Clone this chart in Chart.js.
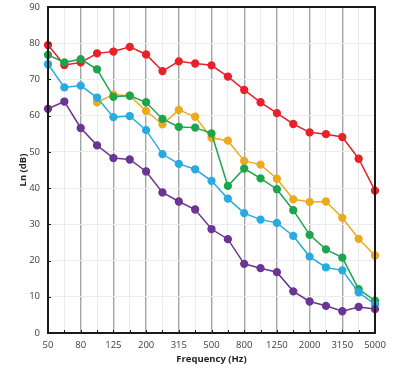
<!DOCTYPE html>
<html><head><meta charset="utf-8">
<script src="https://cdn.jsdelivr.net/npm/chart.js@4/dist/chart.umd.min.js"></script>
<style>html,body{margin:0;padding:0;background:#fff}#wrap{width:396px;height:369px}</style>
</head><body><div id="wrap"><canvas id="c" width="396" height="369"></canvas></div>
<script>
const categories = ['50','63','80','100','125','160','200','250','315','400','500','630','800','1000','1250','1600','2000','2500','3150','4000','5000'];
const redSeries    = [79.5,74.0,74.7,77.2,77.7,79.0,76.9,72.3,75.0,74.4,73.9,70.8,67.1,63.7,60.7,57.7,55.4,54.9,54.1,48.1,39.3];
const greenSeries  = [76.8,74.7,75.6,72.8,65.2,65.5,63.7,59.1,56.9,56.7,55.1,40.6,45.4,42.7,39.7,33.9,27.1,23.1,20.8,12.1,8.9];
const orangeSeries = [null,null,null,63.7,65.8,65.5,61.3,57.6,61.6,59.7,53.9,53.1,47.5,46.5,42.6,36.9,36.2,36.3,31.8,26.0,21.4];
const blueSeries   = [74.2,67.8,68.3,65.0,59.6,59.9,56.0,49.4,46.7,45.2,42.0,37.1,33.1,31.3,30.4,26.8,21.1,18.1,17.3,11.2,7.9];
const purpleSeries = [61.9,63.9,56.6,51.8,48.3,47.9,44.6,38.8,36.3,34.1,28.7,25.9,19.1,17.9,16.8,11.5,8.7,7.5,6.0,7.2,6.6];
const yTicks = [0,10,20,30,40,50,60,70,80,90];

function ds(data, color){
  return {data, borderColor:color, backgroundColor:color, pointBackgroundColor:color, pointBorderColor:color,
    borderWidth:1.5, pointRadius:3.4, pointHoverRadius:3.4, tension:0, spanGaps:false};
}
const frame = {
  id:'frame',
  afterDatasetsDraw(chart){
    const {ctx, chartArea:a, scales} = chart;
    ctx.save();
    ctx.strokeStyle = '#1a1a1a';
    ctx.lineWidth = 1;
    const xs = scales.x;
    for (let i=0;i<categories.length;i++){
      const px = Math.round(xs.getPixelForTick(i))+0.5;
      ctx.beginPath(); ctx.moveTo(px, a.bottom); ctx.lineTo(px, a.bottom-3); ctx.stroke();
    }
    const ys = scales.y;
    for (const v of yTicks){
      const py = Math.round(ys.getPixelForValue(v))+0.5;
      ctx.beginPath(); ctx.moveTo(a.left, py); ctx.lineTo(a.left+3, py); ctx.stroke();
    }
    ctx.lineWidth = 2;
    ctx.strokeRect(a.left, a.top, a.right-a.left, a.bottom-a.top);
    ctx.restore();
  }
};
const FONT = '"Open Sans", "Liberation Sans", sans-serif';
new Chart(document.getElementById('c'), {
  type:'line',
  data:{labels:categories, datasets:[ds(purpleSeries,'#6a3594'), ds(blueSeries,'#29aae1'), ds(greenSeries,'#1ca64b'), ds(orangeSeries,'#ebab1c'), ds(redSeries,'#e8222a')]},
  options:{
    responsive:false, animation:false, devicePixelRatio:1,
    layout:{padding:{top:7,right:21,left:18,bottom:0}},
    plugins:{legend:{display:false}, tooltip:{enabled:false}},
    scales:{
      x:{
        offset:false,
        grid:{drawTicks:false, lineWidth:ctx=>ctx.index%2===0?1.4:1, color:ctx=>ctx.index%2===0?'#a6a6a6':'#ececec'},
        border:{display:false},
        ticks:{autoSkip:false, maxRotation:0, padding:7, color:'#404040', font:{family:FONT, size:9.5},
          callback:(v,i)=> i%2===0 ? categories[i] : ''},
        title:{display:true, text:'Frequency (Hz)', color:'#262626', font:{family:FONT, size:9.5, weight:'bold'}, padding:{top:1,bottom:4}},
        afterFit:s=>{s.height=36; s.paddingLeft=0; s.paddingRight=0;}
      },
      y:{
        min:0, max:90,
        grid:{drawTicks:false, color:'#ebebeb', lineWidth:1},
        border:{display:false},
        ticks:{stepSize:10, padding:8, color:'#404040', font:{family:FONT, size:9.5}},
        title:{display:true, text:'Ln (dB)', color:'#262626', font:{family:FONT, size:9.5, weight:'bold'}, padding:{top:0,bottom:0}},
        afterFit:s=>{s.width=30; s.paddingTop=0; s.paddingBottom=0;}
      }
    }
  },
  plugins:[frame]
});
</script></body></html>
